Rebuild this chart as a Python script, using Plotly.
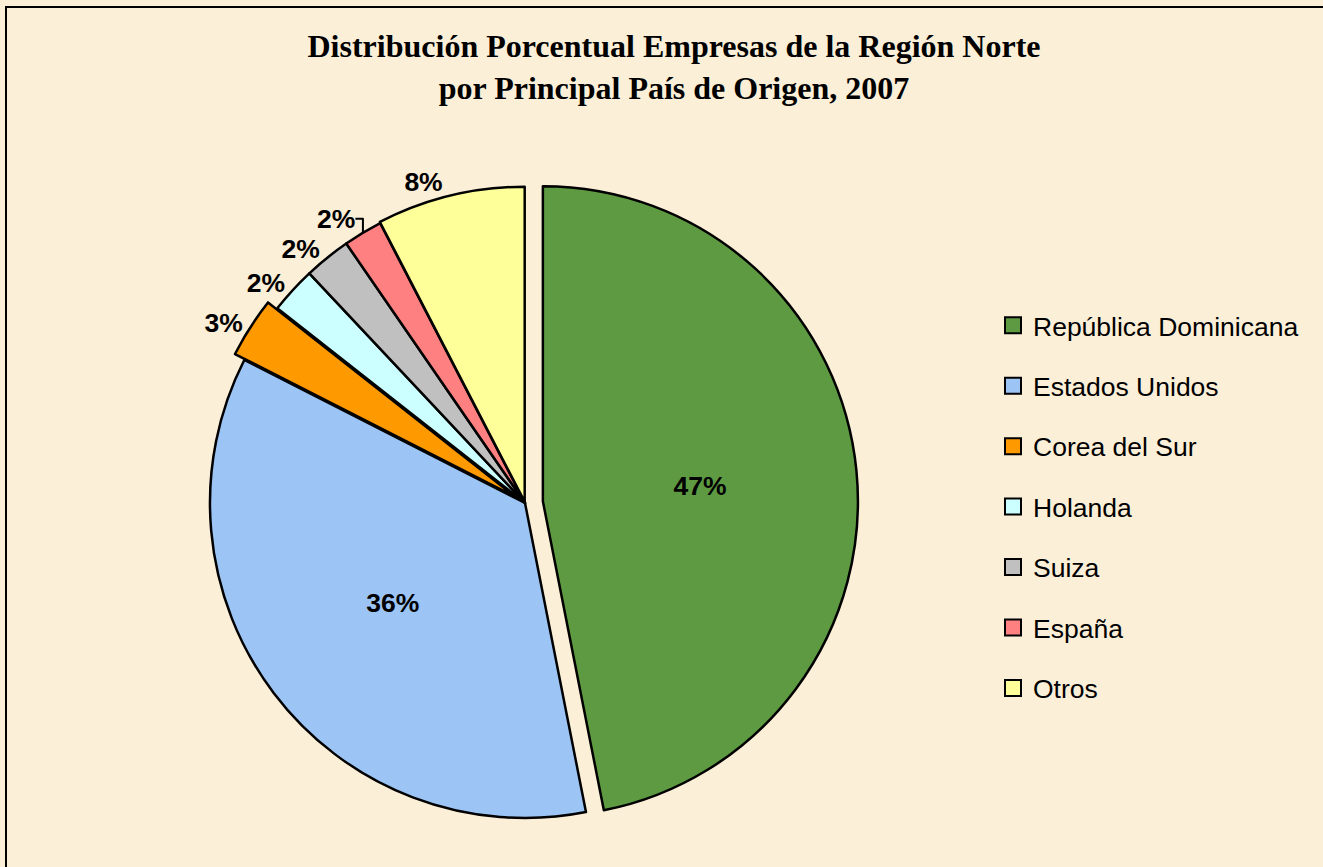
import plotly.graph_objects as go

# ---- data ----
paises = ["República Dominicana", "Estados Unidos", "Corea del Sur", "Holanda", "Suiza", "España", "Otros"]
porcentajes = [46.9, 35.6, 3.1, 2.4, 2.4, 2.0, 7.6]
colores = ["#5E9A42", "#9CC5F6", "#FF9900", "#CCFFFF", "#C0C0C0", "#FF8080", "#FFFF99"]
separacion = [0.057, 0.0, 0.035, 0.0, 0.0, 0.0, 0.004]
posiciones = ["inside", "inside", "outside", "outside", "outside", "outside", "outside"]
titulo = "<b>Distribución Porcentual Empresas de la Región Norte<br>por Principal País de Origen, 2007</b>"

W, H = 1323, 867
cx, cy, half = 525, 503, 333

fig = go.Figure()
fig.add_trace(go.Pie(
    labels=paises,
    values=porcentajes,
    sort=False,
    direction="clockwise",
    rotation=0,
    pull=separacion,
    marker=dict(colors=colores, line=dict(color="black", width=2.5)),
    texttemplate="%{percent:.0%}",
    textposition=posiciones,
    insidetextorientation="horizontal",
    textfont=dict(family="Liberation Sans, Arial", size=26.5, color="black", weight="bold"),
    showlegend=False,
    hoverinfo="label+percent",
    domain=dict(x=[(cx - half) / W, (cx + half) / W],
                y=[(H - cy - half) / H, (H - cy + half) / H]),
))

# legend entries (one per category, same colours)
for nombre, col in zip(paises, colores):
    fig.add_trace(go.Scatter(
        x=[None], y=[None], mode="markers", name=nombre, legendgroup=nombre,
        marker=dict(symbol="square", size=17, color=col, line=dict(color="black", width=2)),
        showlegend=True,
    ))

fig.update_layout(
    width=W, height=H,
    margin=dict(l=0, r=0, t=0, b=0),
    paper_bgcolor="#FBEFD8",
    plot_bgcolor="rgba(0,0,0,0)",
    xaxis=dict(visible=False),
    yaxis=dict(visible=False),
    title=dict(text=titulo, x=674 / W, xanchor="center", y=1 - 57 / H, yanchor="top",
               font=dict(family="Liberation Serif, Times New Roman", size=32, color="black")),
    legend=dict(x=993 / W, xanchor="left", y=(H - 507) / H, yanchor="middle",
                font=dict(family="Liberation Sans, Arial", size=26.5, color="black"),
                tracegroupgap=23, bgcolor="rgba(0,0,0,0)", traceorder="grouped"),
    shapes=[dict(type="rect", xref="paper", yref="paper",
                 x0=6 / W, x1=1.05, y0=-0.05, y1=1 - 7 / H,
                 line=dict(color="black", width=2), fillcolor="rgba(0,0,0,0)", layer="below")],
)

fig.write_html("out.html",
               config={"displayModeBar": False},
               post_script="document.body.style.margin='0';document.body.style.overflow='hidden';")
